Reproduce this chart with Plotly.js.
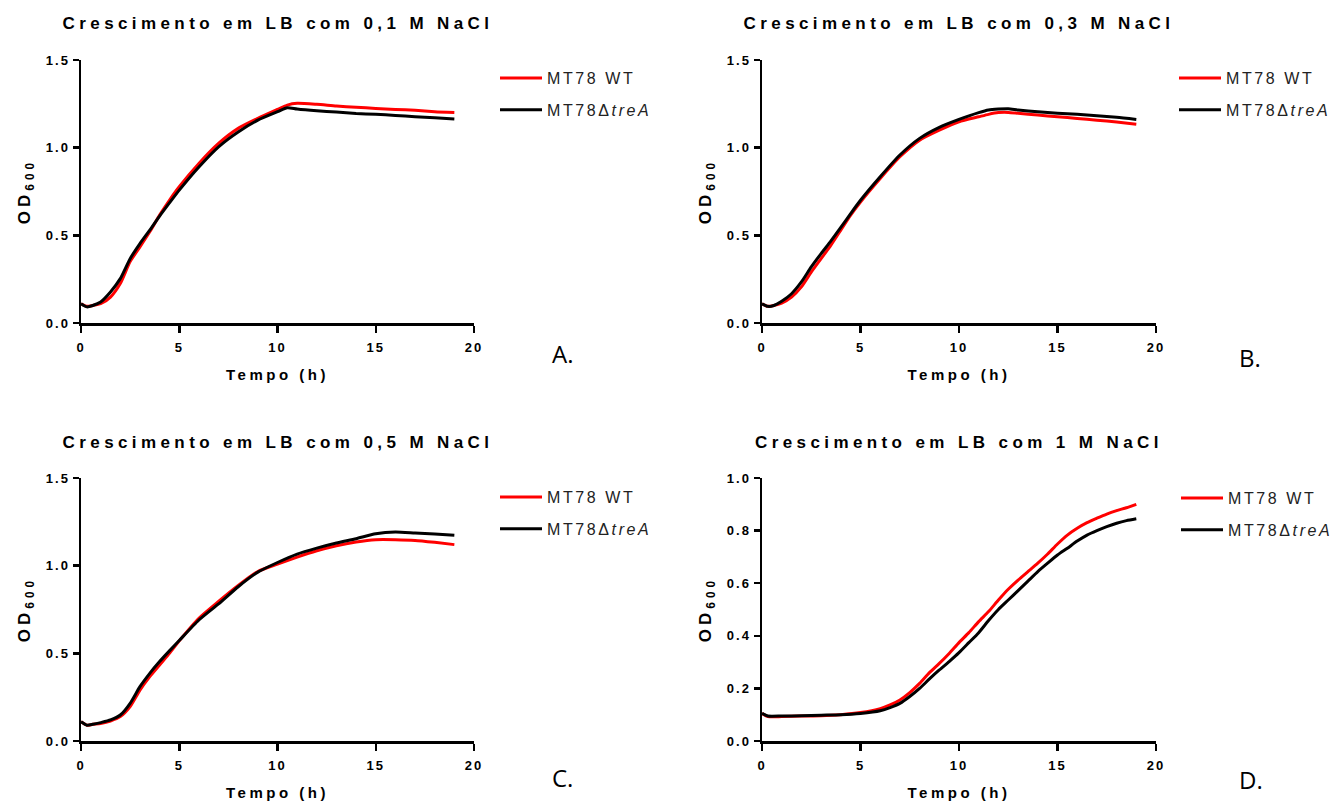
<!DOCTYPE html>
<html>
<head>
<meta charset="utf-8">
<script src="https://cdn.plot.ly/plotly-3.0.1.min.js"></script>
<style>
  html, body { margin: 0; padding: 0; background: #fff; }
  #chart { width: 1331px; height: 802px; }
  [class$="tick"] text { letter-spacing: 2px; }
  .xtitle, .x2title, .x3title, .x4title { letter-spacing: 3.5px; }
  .ytitle, .y2title, .y3title, .y4title { letter-spacing: 4px; }
  .legendtext, .legend2text, .legend3text, .legend4text { letter-spacing: 2.6px; }
  g.annotation[data-index="0"] text, g.annotation[data-index="1"] text,
  g.annotation[data-index="2"] text, g.annotation[data-index="3"] text { letter-spacing: 4.4px; }
</style>
</head>
<body>
<div id="chart"></div>
<script>
// ---- data (OD600 vs time in h) ----
const seriesNames = ["MT78 WT", "MT78Δ<i>treA</i>"];
const panelTitles = [
  "Crescimento em LB com 0,1 M NaCl",
  "Crescimento em LB com 0,3 M NaCl",
  "Crescimento em LB com 0,5 M NaCl",
  "Crescimento em LB com 1 M NaCl"
];
const panelLetters = ["A.", "B.", "C.", "D."];

const tA = [0, 0.3, 0.6, 1, 1.5, 2, 2.5, 3, 3.5, 4, 4.5, 5, 6, 7, 8, 9, 10, 10.5, 11, 12, 13, 14, 15, 16, 17, 18, 19];
const A_WT = [0.11, 0.095, 0.10, 0.11, 0.148, 0.225, 0.35, 0.434, 0.52, 0.615, 0.70, 0.777, 0.91, 1.024, 1.11, 1.167, 1.218, 1.243, 1.253, 1.247, 1.237, 1.23, 1.224, 1.218, 1.213, 1.205, 1.20];
const A_treA = [0.11, 0.092, 0.10, 0.12, 0.177, 0.253, 0.367, 0.453, 0.53, 0.61, 0.685, 0.758, 0.89, 1.005, 1.09, 1.157, 1.205, 1.228, 1.22, 1.21, 1.203, 1.195, 1.19, 1.184, 1.177, 1.17, 1.163];

const tB = [0, 0.3, 0.6, 1, 1.5, 2, 2.5, 3, 3.5, 4, 4.5, 5, 6, 7, 8, 9, 10, 11, 11.5, 12, 12.5, 13, 14, 15, 16, 17, 18, 19];
const B_WT = [0.11, 0.095, 0.10, 0.114, 0.148, 0.206, 0.29, 0.367, 0.444, 0.53, 0.615, 0.69, 0.824, 0.948, 1.043, 1.10, 1.148, 1.176, 1.19, 1.2, 1.201, 1.196, 1.186, 1.176, 1.167, 1.157, 1.146, 1.133];
const B_treA = [0.11, 0.095, 0.10, 0.124, 0.167, 0.234, 0.32, 0.396, 0.468, 0.545, 0.624, 0.70, 0.834, 0.958, 1.053, 1.116, 1.161, 1.2, 1.215, 1.22, 1.222, 1.215, 1.205, 1.197, 1.19, 1.182, 1.173, 1.161];

const tC = [0, 0.3, 0.6, 1, 1.5, 2, 2.5, 3, 3.5, 4, 4.5, 5, 6, 7, 8, 9, 10, 11, 12, 13, 14, 15, 16, 17, 18, 19];
const C_WT = [0.11, 0.09, 0.095, 0.10, 0.114, 0.139, 0.196, 0.29, 0.367, 0.434, 0.50, 0.571, 0.70, 0.796, 0.887, 0.967, 1.009, 1.049, 1.085, 1.114, 1.135, 1.148, 1.148, 1.144, 1.133, 1.12];
const C_treA = [0.11, 0.09, 0.095, 0.105, 0.12, 0.148, 0.215, 0.31, 0.386, 0.453, 0.514, 0.573, 0.69, 0.782, 0.88, 0.963, 1.018, 1.066, 1.10, 1.129, 1.154, 1.182, 1.192, 1.186, 1.18, 1.173];

const tD = [0, 0.3, 1, 2, 3, 4, 5, 6, 6.5, 7, 7.5, 8, 8.5, 9, 9.5, 10, 10.5, 11, 11.5, 12, 12.5, 13, 13.5, 14, 14.5, 15, 15.5, 16, 16.5, 17, 17.5, 18, 18.5, 19];
const D_WT = [0.105, 0.093, 0.093, 0.095, 0.096, 0.10, 0.108, 0.123, 0.137, 0.156, 0.184, 0.219, 0.26, 0.295, 0.333, 0.374, 0.412, 0.454, 0.492, 0.536, 0.577, 0.612, 0.644, 0.676, 0.711, 0.749, 0.783, 0.809, 0.83, 0.847, 0.863, 0.876, 0.887, 0.90];
const D_treA = [0.105, 0.095, 0.095, 0.096, 0.098, 0.10, 0.105, 0.115, 0.127, 0.143, 0.169, 0.20, 0.236, 0.27, 0.302, 0.336, 0.374, 0.412, 0.458, 0.50, 0.536, 0.572, 0.608, 0.644, 0.676, 0.707, 0.733, 0.76, 0.783, 0.80, 0.815, 0.828, 0.838, 0.845];

const xTickVals = [0, 5, 10, 15, 20];
const yRanges = [[0, 1.5], [0, 1.5], [0, 1.5], [0, 1.0]];
const yDticks = [0.5, 0.5, 0.5, 0.2];

// ---- layout geometry ----
const W = 1331, H = 802;
const colX = [[81, 474], [762, 1156]];
const rowY = [[60, 323], [478, 741]]; // pixel top, bottom
const panels = [
  { t: tA, wt: A_WT, mu: A_treA, col: 0, row: 0 },
  { t: tB, wt: B_WT, mu: B_treA, col: 1, row: 0 },
  { t: tC, wt: C_WT, mu: C_treA, col: 0, row: 1 },
  { t: tD, wt: D_WT, mu: D_treA, col: 1, row: 1 }
];
const legendPos = [[495, 61], [1174, 61], [495, 480], [1176, 481]];
const letterPos = [[562, 354], [1250, 357], [562, 777], [1251, 779]];
const titleY = [23, 442];

const FONT = "Liberation Sans, Arial, sans-serif";
const data = [];
const layout = {
  width: W, height: H,
  margin: { l: 0, r: 0, t: 0, b: 0, autoexpand: false },
  paper_bgcolor: "#fff", plot_bgcolor: "#fff",
  showlegend: true,
  annotations: [],
  font: { family: FONT, color: "#000" }
};

panels.forEach((p, i) => {
  const n = i + 1;
  const xa = n === 1 ? "x" : "x" + n;
  const ya = n === 1 ? "y" : "y" + n;
  const lg = n === 1 ? "legend" : "legend" + n;
  data.push({
    x: p.t, y: p.wt, type: "scatter", mode: "lines", name: seriesNames[0], legendgroup: "wt" + n,
    xaxis: xa, yaxis: ya, legend: lg, line: { color: "#ff0000", width: 3, shape: "spline", smoothing: 0.6 }
  });
  data.push({
    x: p.t, y: p.mu, type: "scatter", mode: "lines", name: seriesNames[1], legendgroup: "mu" + n,
    xaxis: xa, yaxis: ya, legend: lg, line: { color: "#000000", width: 3, shape: "spline", smoothing: 0.6 }
  });
  const cx = colX[p.col], ry = rowY[p.row];
  layout["xaxis" + (n === 1 ? "" : n)] = {
    domain: [cx[0] / W, cx[1] / W], anchor: ya, range: [0, 20], automargin: false,
    tickvals: xTickVals, ticks: "outside", ticklen: 7, tickwidth: 2.5, tickcolor: "#000",
    ticklabelstandoff: 4,
    showline: true, linecolor: "#000", linewidth: 2.5, showgrid: false, zeroline: false,
    tickfont: { family: FONT, size: 13, color: "#000", weight: "bold" },
    title: { text: "Tempo (h)", font: { family: FONT, size: 15, color: "#000", weight: "bold" }, standoff: 16 },
    fixedrange: true
  };
  layout["yaxis" + (n === 1 ? "" : n)] = {
    domain: [1 - ry[1] / H, 1 - ry[0] / H], anchor: xa, range: yRanges[i], automargin: false,
    dtick: yDticks[i], tickformat: ".1f", ticks: "outside", ticklen: 6, tickwidth: 2.5, tickcolor: "#000",
    showline: true, linecolor: "#000", linewidth: 2.5, showgrid: false, zeroline: false,
    tickfont: { family: FONT, size: 13, color: "#000", weight: "bold" },
    title: { text: "OD<sub>600</sub>", font: { family: FONT, size: 17, color: "#000", weight: "bold" }, standoff: 11 },
    fixedrange: true
  };
  layout[lg] = {
    x: legendPos[i][0] / W, y: 1 - legendPos[i][1] / H, xanchor: "left", yanchor: "top",
    bgcolor: "rgba(0,0,0,0)", borderwidth: 0, itemwidth: 42, traceorder: "grouped",
    font: { family: FONT, size: 16, color: "#222" }, tracegroupgap: 8
  };
});

// subplot titles (indices 0..3)
panels.forEach((p, i) => {
  const xa = i === 0 ? "x" : "x" + (i + 1);
  layout.annotations.push({
    text: panelTitles[i], xref: xa + " domain", x: 0.5, yref: "paper", y: 1 - titleY[p.row] / H,
    xanchor: "center", yanchor: "middle", showarrow: false,
    font: { family: FONT, size: 17, color: "#000", weight: "bold" }
  });
});
// panel letters
panels.forEach((p, i) => {
  layout.annotations.push({
    text: panelLetters[i], xref: "paper", yref: "paper",
    x: letterPos[i][0] / W, y: 1 - letterPos[i][1] / H,
    xanchor: "center", yanchor: "middle", showarrow: false,
    font: { family: "Open Sans, sans-serif", size: 24, color: "#000" }
  });
});

Plotly.newPlot("chart", data, layout, { displayModeBar: false, staticPlot: true });
</script>
</body>
</html>
